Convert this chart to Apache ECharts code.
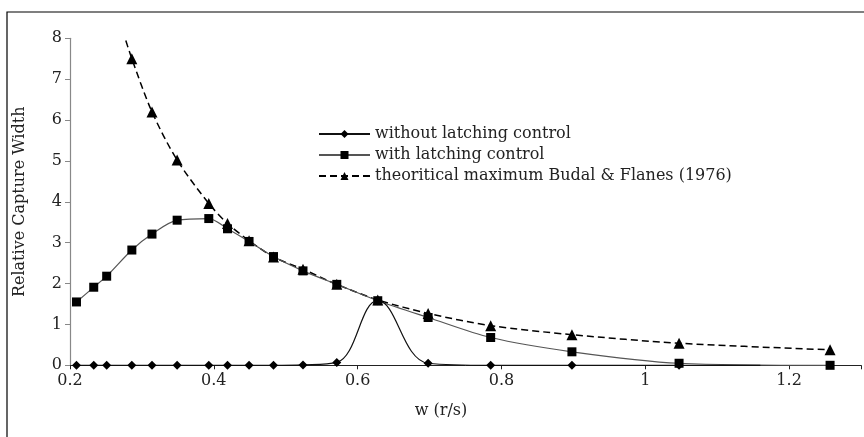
<!DOCTYPE html>
<html>
<head>
<meta charset="utf-8">
<script src="https://cdn.jsdelivr.net/npm/echarts@6/dist/echarts.min.js"></script>
<style>html,body{margin:0;padding:0;background:#fff}#c{width:864px;height:437px}</style>
</head>
<body>
<div id="c"></div>
<script>
// Data (w in rad/s, relative capture width)
var wWithout = [0.209, 0.233, 0.251, 0.286, 0.314, 0.349, 0.393, 0.419, 0.449, 0.483, 0.524, 0.571, 0.628, 0.698, 0.785, 0.898, 1.047, 1.16];
var vWithout = [0, 0, 0, 0, 0, 0, 0, 0, 0, 0, 0.01, 0.07, 1.58, 0.05, 0, 0, 0, 0];

var wWith = [0.209, 0.233, 0.251, 0.286, 0.314, 0.349, 0.393, 0.419, 0.449, 0.483, 0.524, 0.571, 0.628, 0.698, 0.785, 0.898, 1.047, 1.257];
var vWith = [1.55, 1.91, 2.18, 2.82, 3.21, 3.55, 3.59, 3.34, 3.03, 2.66, 2.31, 1.98, 1.58, 1.17, 0.68, 0.33, 0.05, 0];

var wMax = [0.273, 0.286, 0.314, 0.349, 0.393, 0.419, 0.449, 0.483, 0.524, 0.571, 0.628, 0.698, 0.785, 0.898, 1.047, 1.257];
var vMax = [8.2, 7.5, 6.2, 5.02, 3.96, 3.47, 3.05, 2.65, 2.35, 1.98, 1.6, 1.27, 0.97, 0.75, 0.54, 0.38];

var xTicks = [0.2, 0.4, 0.6, 0.8, 1, 1.2];
var seriesNames = ['without latching control', 'with latching control', 'theoritical maximum Budal & Flanes (1976)'];

function pairs(xs, ys) { return xs.map(function (x, i) { return [x, ys[i]]; }); }

var font = "'DejaVu Serif', 'Liberation Serif', serif";
var fs = 16;
var withoutData = pairs(wWithout, vWithout);
withoutData[withoutData.length - 1] = { value: withoutData[withoutData.length - 1], symbol: 'none' };

var chart = echarts.init(document.getElementById('c'), null, { renderer: 'canvas' });
chart.setOption({
  animation: false,
  backgroundColor: '#fff',
  textStyle: { fontFamily: font },
  grid: { left: 70, top: 38.3, width: 798, height: 327, containLabel: false },
  legend: {
    orient: 'vertical', left: 313, top: 121,
    itemWidth: 51, itemHeight: 10, itemGap: 5,
    textStyle: { fontFamily: font, fontSize: fs, color: '#222' },
    data: seriesNames
  },
  graphic: [
    { type: 'rect', shape: { x: 7, y: 12, width: 880, height: 460 }, style: { fill: 'none', stroke: '#000', lineWidth: 1.2 }, silent: true, z: 0 },
    { type: 'text', x: 441, y: 411, style: { text: 'w (r/s)', font: fs + "px " + font, fill: '#222', textAlign: 'center', textVerticalAlign: 'middle' } }
  ],
  xAxis: {
    type: 'value', min: 0.2, max: 1.3, interval: 0.2,
    axisLine: { show: true, onZero: false, lineStyle: { color: '#222', width: 1 } },
    axisTick: { show: true, length: 4, inside: false, lineStyle: { color: '#222' } },
    axisLabel: {
      fontFamily: font, fontSize: fs, color: '#222', margin: 8,
      formatter: function (v) {
        for (var i = 0; i < xTicks.length; i++) if (Math.abs(v - xTicks[i]) < 1e-6) return String(xTicks[i]);
        return '';
      }
    },
    splitLine: { show: false }
  },
  yAxis: {
    type: 'value', min: 0, max: 8, interval: 1,
    name: 'Relative Capture Width', nameLocation: 'middle', nameGap: 42,
    nameTextStyle: { fontFamily: font, fontSize: fs, color: '#222' },
    axisLine: { show: true, lineStyle: { color: '#888', width: 1.2 } },
    axisTick: { show: true, length: 5, lineStyle: { color: '#888' } },
    axisLabel: { fontFamily: font, fontSize: fs, color: '#222', margin: 8 },
    splitLine: { show: false }
  },
  series: [
    {
      name: seriesNames[2], type: 'line', data: pairs(wMax, vMax), smooth: 0.3, clip: true,
      symbol: 'triangle', symbolSize: 11,
      itemStyle: { color: '#000' },
      lineStyle: { color: '#000', width: 1.5, type: [7, 4] }, z: 2
    },
    {
      name: seriesNames[1], type: 'line', data: pairs(wWith, vWith), smooth: 0.3, clip: true,
      symbol: 'rect', symbolSize: 9,
      itemStyle: { color: '#000' },
      lineStyle: { color: '#555', width: 1.2 }, z: 3
    },
    {
      name: seriesNames[0], type: 'line', data: withoutData, smooth: 0.4, clip: true,
      symbol: 'diamond', symbolSize: 9,
      itemStyle: { color: '#000' },
      lineStyle: { color: '#111', width: 1.2 }, z: 4
    }
  ]
});
</script>
</body>
</html>
